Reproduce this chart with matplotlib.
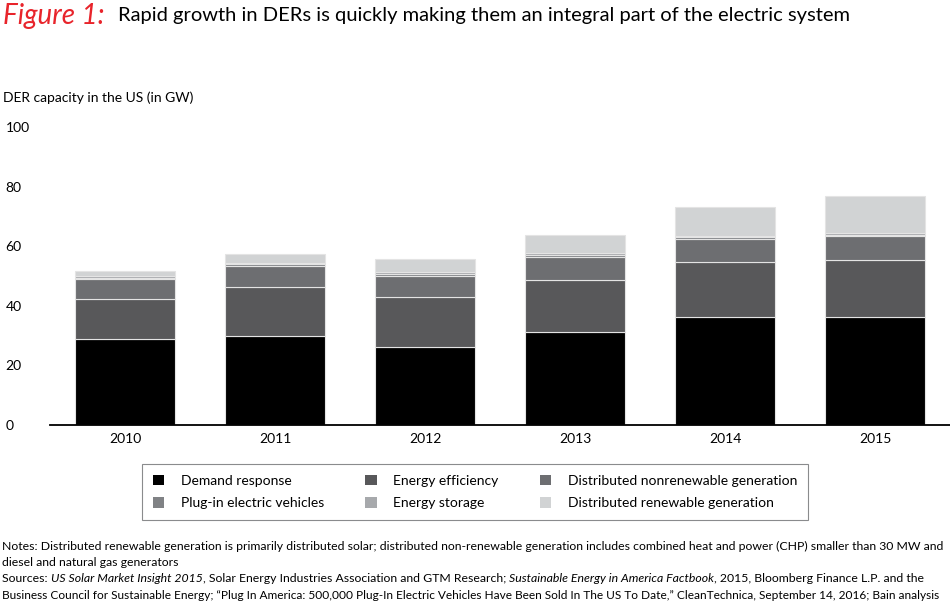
import matplotlib
matplotlib.use("Agg")
import matplotlib.pyplot as plt
from matplotlib.patches import Patch
import numpy as np

plt.rcParams['font.family'] = ['Lato', 'DejaVu Sans']

years = ['2010', '2011', '2012', '2013', '2014', '2015']
demand_response = [28.9, 29.7, 26.1, 31.2, 36.1, 36.2]
energy_efficiency = [13.3, 16.5, 16.7, 17.6, 18.6, 19.3]
dist_nonrenewable = [6.8, 7.3, 7.3, 7.7, 7.8, 7.8]
plugin_ev = [0.3, 0.4, 0.5, 0.5, 0.5, 0.6]
energy_storage = [0.8, 0.6, 0.6, 0.6, 0.5, 0.6]
dist_renewable = [1.6, 2.8, 4.4, 6.3, 9.5, 12.2]

series = [
    ('Demand response', demand_response, '#000000'),
    ('Energy efficiency', energy_efficiency, '#58585a'),
    ('Distributed nonrenewable generation', dist_nonrenewable, '#6d6e71'),
    ('Plug-in electric vehicles', plugin_ev, '#808285'),
    ('Energy storage', energy_storage, '#a7a9ac'),
    ('Distributed renewable generation', dist_renewable, '#d1d3d4'),
]

fig = plt.figure(figsize=(9.5, 6.03), dpi=100)
ax = fig.add_axes([50 / 950, 1 - 425 / 603, 900 / 950, 298 / 603])

x = np.arange(len(years))
bottom = np.zeros(len(years))
for name, vals, col in series:
    ax.bar(x, vals, width=0.667, bottom=bottom, color=col,
           edgecolor='#e4e4e4', linewidth=0.8, label=name)
    bottom += np.array(vals)

ax.set_xlim(-0.5, len(years) - 0.5)
ax.set_ylim(0, 100)
ax.set_xticks(x)
ax.set_xticklabels(years, fontsize=10)
ax.set_yticks([0, 20, 40, 60, 80, 100])
ax.tick_params(axis='x', length=0, pad=6)
ax.tick_params(axis='y', length=0, pad=32, labelsize=10)
for lab in ax.get_yticklabels():
    lab.set_horizontalalignment('left')
for s in ['top', 'right', 'left']:
    ax.spines[s].set_visible(False)
ax.spines['bottom'].set_linewidth(1.3)

fig.text(3 / 950, 1 - 98 / 603, 'DER capacity in the US (in GW)', fontsize=10, va='center')

# legend, filled row-wise
handles = [Patch(facecolor=c, edgecolor='none') for _, _, c in series]
labels = [n for n, _, _ in series]
order = [0, 3, 1, 4, 2, 5]
leg = fig.legend([handles[i] for i in order], [labels[i] for i in order], ncol=3,
                 loc='center', bbox_to_anchor=(475 / 950, 1 - 492 / 603),
                 frameon=True, fancybox=False, fontsize=10, handlelength=0.8,
                 handleheight=0.8, handletextpad=1.2, columnspacing=3.0,
                 borderpad=0.75, labelspacing=0.75)
leg.get_frame().set_edgecolor('#6d6e71')
leg.get_frame().set_linewidth(0.8)

fig.canvas.draw()
renderer = fig.canvas.get_renderer()


def place(pieces, x0, y0, max_right=None):
    # lay out text pieces one after another; shrink the line if it runs past max_right
    for attempt in range(4):
        xp = x0
        made = []
        for txt, style, color, size in pieces:
            t = fig.text(xp / 950, 1 - y0 / 603, txt, fontsize=size, style=style,
                         color=color, va='center')
            made.append(t)
            xp += t.get_window_extent(renderer).width
        if max_right is None or xp <= max_right or attempt == 3:
            return
        k = 0.99 * (max_right - x0) / (xp - x0)
        for t in made:
            t.remove()
        pieces = [(a, b, c, d * k) for a, b, c, d in pieces]


place([('Figure 1:  ', 'italic', '#e8242b', 20),
       ('Rapid growth in DERs is quickly making them an integral part of the electric system', 'normal', 'black', 14.5)],
      3, 16)

notes = [
    [('Notes: Distributed renewable generation is primarily distributed solar; distributed non-renewable generation includes combined heat and power (CHP) smaller than 30 MW and', 'normal')],
    [('diesel and natural gas generators', 'normal')],
    [('Sources: ', 'normal'), ('US Solar Market Insight 2015', 'italic'),
     (', Solar Energy Industries Association and GTM Research; ', 'normal'),
     ('Sustainable Energy in America Factbook', 'italic'),
     (', 2015, Bloomberg Finance L.P. and the', 'normal')],
    [('Business Council for Sustainable Energy; \u201cPlug In America: 500,000 Plug-In Electric Vehicles Have Been Sold In The US To Date,\u201d CleanTechnica, September 14, 2016; Bain analysis', 'normal')],
]
for i, line in enumerate(notes):
    place([(t, s, 'black', 8.8) for t, s in line], 2, 546 + i * 16.4, max_right=947)

fig.savefig('out.png', dpi=100)
